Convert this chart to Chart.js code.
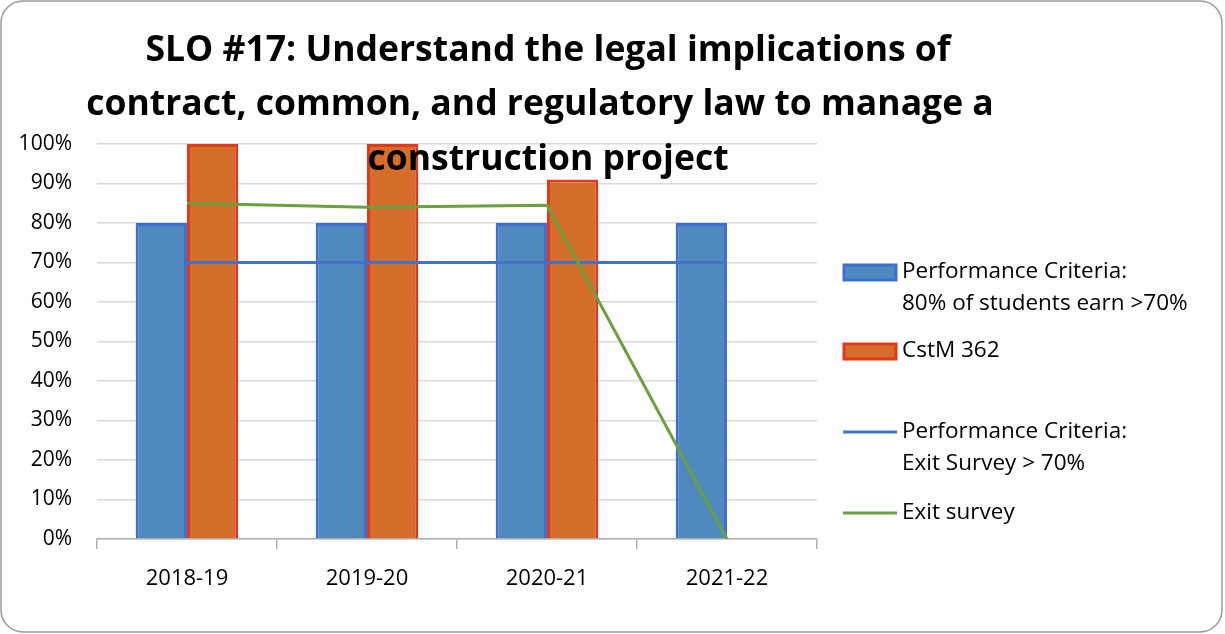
<!DOCTYPE html>
<html>
<head>
<meta charset="utf-8">
<script src="https://cdn.jsdelivr.net/npm/chart.js@4"></script>
<style>
  html, body { margin: 0; padding: 0; background: #fff; }
  #wrap { position: relative; width: 1225px; height: 634px; }
</style>
</head>
<body>
<div id="wrap"><canvas id="sloChart" width="1225" height="634"></canvas></div>
<script>
// chart values
const categories = ['2018-19', '2019-20', '2020-21', '2021-22'];
const criteriaBars = [0.80, 0.80, 0.80, 0.80];
const cstm362 = [1.00, 1.00, 0.91, null];
const exitCriteria = [0.70, 0.70, 0.70, 0.70];
const exitSurvey = [0.85, 0.84, 0.845, 0.00];
const yTicks = [0, 0.1, 0.2, 0.3, 0.4, 0.5, 0.6, 0.7, 0.8, 0.9, 1.0];
const titleLines = [
  'SLO #17: Understand the legal implications of',
  'contract, common, and regulatory law to manage a',
  'construction project'
];
const legendLabels = [
  ['Performance Criteria:', '80% of students earn >70%'],
  ['CstM 362'],
  ['Performance Criteria:', 'Exit Survey > 70%'],
  ['Exit survey']
];

const BLUE_FILL = '#4f89be';
const BLUE_EDGE = '#3b6fd6';
const ORANGE_FILL = '#d46e2a';
const ORANGE_EDGE = '#e2391a';
const LINE_BLUE = '#4472c4';
const LINE_GREEN = '#6aa040';
const FONT = "'Open Sans', 'Liberation Sans', sans-serif";

// frame + title + legend drawn on the canvas
const decorations = {
  id: 'decorations',
  beforeDraw(chart) {
    const ctx = chart.ctx;
    ctx.save();
    ctx.strokeStyle = '#9a9a9a';
    ctx.lineWidth = 1.5;
    ctx.beginPath();
    ctx.roundRect(1, 1, 1221, 631, 22);
    ctx.stroke();
    ctx.restore();
  },
  afterDraw(chart) {
    const ctx = chart.ctx;
    ctx.save();
    // title
    ctx.fillStyle = '#000';
    ctx.font = 'bold 35.5px ' + FONT;
    ctx.textAlign = 'center';
    ctx.textBaseline = 'middle';
    const tx = [548, 540, 548];
    const ty = [51, 105, 160];
    titleLines.forEach((t, i) => ctx.fillText(t, tx[i], ty[i]));

    // legend
    ctx.font = '22.5px ' + FONT;
    ctx.textAlign = 'left';
    const rows = [272, 351, 432, 513];
    const ds = chart.data.datasets;
    ds.forEach((d, i) => {
      const y = rows[i];
      if (d.type === 'line') {
        ctx.strokeStyle = d.borderColor;
        ctx.lineWidth = 3;
        ctx.beginPath();
        ctx.moveTo(843, y);
        ctx.lineTo(897, y);
        ctx.stroke();
      } else {
        ctx.fillStyle = d.backgroundColor;
        ctx.fillRect(844, y - 7, 52, 15);
        ctx.strokeStyle = d.borderColor;
        ctx.lineWidth = 3;
        ctx.strokeRect(844, y - 7, 52, 15);
      }
      ctx.fillStyle = '#000';
      legendLabels[i].forEach((t, k) => ctx.fillText(t, 902, y + k * 32));
    });
    ctx.restore();
  }
};

new Chart(document.getElementById('sloChart'), {
  data: {
    labels: categories,
    datasets: [
      {
        type: 'bar', label: legendLabels[0].join(' '), data: criteriaBars,
        backgroundColor: BLUE_FILL, borderColor: BLUE_EDGE, borderWidth: 3,
        categoryPercentage: 0.57, barPercentage: 1.0, order: 2
      },
      {
        type: 'bar', label: legendLabels[1].join(' '), data: cstm362,
        backgroundColor: ORANGE_FILL, borderColor: ORANGE_EDGE, borderWidth: 3,
        categoryPercentage: 0.57, barPercentage: 1.0, order: 3
      },
      {
        type: 'line', label: legendLabels[2].join(' '), data: exitCriteria,
        borderColor: LINE_BLUE, backgroundColor: LINE_BLUE, borderWidth: 3,
        pointRadius: 0, tension: 0, order: 1
      },
      {
        type: 'line', label: legendLabels[3].join(' '), data: exitSurvey,
        borderColor: LINE_GREEN, backgroundColor: LINE_GREEN, borderWidth: 3,
        pointRadius: 0, tension: 0, order: 0
      }
    ]
  },
  options: {
    responsive: false,
    animation: false,
    devicePixelRatio: 1,
    layout: { padding: { top: 144, right: 408, bottom: 0, left: 0 } },
    plugins: {
      legend: { display: false },
      title: { display: false },
      tooltip: { enabled: false }
    },
    scales: {
      x: {
        offset: true,
        grid: { offset: true, drawOnChartArea: false, drawTicks: true, tickLength: 10, color: '#b0b0b0', lineWidth: 1.5 },
        border: { color: '#b0b0b0', width: 1.5 },
        ticks: { color: '#000', font: { family: FONT, size: 22 }, padding: 17, maxRotation: 0 },
        afterFit(scale) { scale.height = 95; }
      },
      y: {
        min: 0, max: 1,
        afterBuildTicks(scale) { scale.ticks = yTicks.map(v => ({ value: v })); },
        grid: { color: '#d9d9d9', lineWidth: 1.5, drawTicks: false },
        border: { display: false },
        ticks: {
          color: '#000', font: { family: FONT, size: 21 }, padding: 25,
          callback: v => Math.round(v * 100) + '%'
        },
        afterFit(scale) { scale.width = 97; }
      }
    }
  },
  plugins: [decorations]
});
</script>
</body>
</html>
